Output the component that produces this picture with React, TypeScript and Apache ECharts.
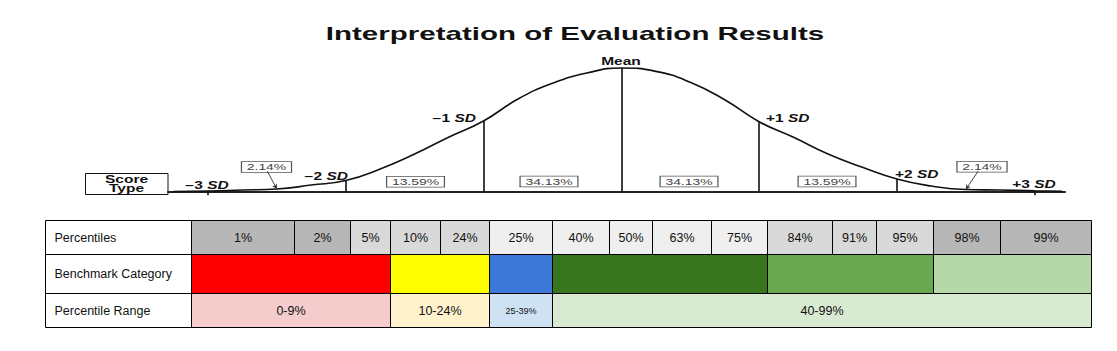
import React, { useEffect, useRef } from "react";
import * as echarts from "echarts";

// ---------- data: bell curve (relative height, peak = 100) ----------
const sdPositions = [-3.25, -3, -2.75, -2.5, -2.25, -2, -1.75, -1.5, -1.25, -1, -0.75, -0.5, -0.25, 0, 0.25, 0.5, 0.75, 1, 1.25, 1.5, 1.75, 2, 2.25, 2.5, 2.75, 3, 3.2];
const curveHeights = [0.4, 0.8, 1.6, 2.4, 5.6, 9.3, 18.5, 30.6, 44.4, 57.3, 75, 87.7, 96, 100, 97.3, 88.5, 74.4, 56.7, 44.1, 30.6, 19.9, 10.5, 4.8, 2.0, 1.6, 1.0, 0.6];
const sdDividers = [-2, -1, 0, 1, 2];
const sdEndTicks = [-3, 3];
const tailArrowTargets = [-2.5, 2.5];
const areaPercents = ["2.14%", "13.59%", "34.13%", "34.13%", "13.59%", "2.14%"];
const sdLabelNumbers = ["−3", "−2", "−1", "+1", "+2", "+3"];

// ---------- data: table ----------
const rowLabels = ["Percentiles", "Benchmark Category", "Percentile Range"];
const percentiles = ["1%", "2%", "5%", "10%", "24%", "25%", "40%", "50%", "63%", "75%", "84%", "91%", "95%", "98%", "99%"];
const benchmarkSpans = [[0, 3], [3, 5], [5, 6], [6, 10], [10, 13], [13, 15]];
const rangeLabels = ["0-9%", "10-24%", "25-39%", "40-99%"];
const rangeSpans = [[0, 3], [3, 5], [5, 6], [6, 15]];

// ---------- styles / layout ----------
const TITLE = "Interpretation of Evaluation Results";
const colWidths = [146, 103, 56, 40, 50, 49, 63, 57, 43, 59, 56, 65, 44, 57, 67, 91];
const rowHeights = [34, 39, 34];
const percentileShades = ["#b7b7b7", "#b7b7b7", "#d9d9d9", "#d9d9d9", "#d9d9d9", "#efefef", "#efefef", "#efefef", "#efefef", "#efefef", "#d9d9d9", "#d9d9d9", "#d9d9d9", "#b7b7b7", "#b7b7b7"];
const benchmarkColors = ["#ff0000", "#ffff00", "#3c78d8", "#38761d", "#6aa84f", "#b6d7a8"];
const rangeColors = ["#f4cccc", "#fff2cc", "#cfe2f3", "#d9ead3"];
const SANS = '"Liberation Sans", Arial, Helvetica, sans-serif';
const STRETCH = 1.55;

const colEdges = colWidths.reduce((acc, w) => { acc.push(acc[acc.length - 1] + w); return acc; }, [0] as number[]);
const rowEdges = rowHeights.reduce((acc, h) => { acc.push(acc[acc.length - 1] + h); return acc; }, [0] as number[]);

type Cell = { x0: number; x1: number; r: number; fill: string; text: string; align: string; fontSize: number };
const cells: Cell[] = [];
rowLabels.forEach((t, r) => cells.push({ x0: 0, x1: colEdges[1], r, fill: "#ffffff", text: t, align: "left", fontSize: 12.5 }));
percentiles.forEach((p, i) => cells.push({ x0: colEdges[i + 1], x1: colEdges[i + 2], r: 0, fill: percentileShades[i], text: p, align: "center", fontSize: 12.5 }));
benchmarkSpans.forEach(([a, b], i) => cells.push({ x0: colEdges[a + 1], x1: colEdges[b + 1], r: 1, fill: benchmarkColors[i], text: "", align: "center", fontSize: 12.5 }));
rangeSpans.forEach(([a, b], i) => cells.push({ x0: colEdges[a + 1], x1: colEdges[b + 1], r: 2, fill: rangeColors[i], text: rangeLabels[i], align: "center", fontSize: b - a === 1 ? 9 : 12.5 }));

const heightAt = (sd: number) => curveHeights[sdPositions.indexOf(sd)];

function diagramText(text: string, x: number, y: number, align: string, extra: any = {}, stretch = STRETCH) {
  return {
    type: "text",
    x,
    y,
    scaleX: stretch,
    silent: true,
    style: {
      text,
      font: `bold 10px ${SANS}`,
      fill: "#111",
      align,
      verticalAlign: "middle",
      textAlign: align,
      textVerticalAlign: "middle",
      ...extra,
    },
  };
}

function sdLabel(num: string, x: number, y: number, align: string) {
  return diagramText(`{n|${num} }{s|SD}`, x, y, align, {
    rich: {
      n: { font: `bold 10px ${SANS}`, fill: "#111" },
      s: { font: `italic bold 10px ${SANS}`, fill: "#111" },
    },
  });
}

function pctBox(text: string, x: number, y: number) {
  return diagramText(text, x, y, "center", {
    font: `9px ${SANS}`,
    fill: "#444",
    backgroundColor: "#fff",
    borderColor: "#555",
    borderWidth: 0.8,
    padding: [1, 3, 0, 3],
    lineHeight: 9,
  });
}

export default function App() {
  const ref = useRef<HTMLDivElement>(null);
  useEffect(() => {
    document.body.style.margin = "0";
    const chart = echarts.init(ref.current!, null, { renderer: "svg" });
    const curve = sdPositions.map((x, i) => [x, curveHeights[i]]);
    const dividerLines = sdDividers.map((sd) => [{ coord: [sd, 0] }, { coord: [sd, heightAt(sd)] }]);
    const tickLines = sdEndTicks.map((sd) => [{ coord: [sd, -2.6] }, { coord: [sd, heightAt(sd)] }]);
    const arrowLines = tailArrowTargets.map((sd) => [
      { coord: [sd + (sd < 0 ? -0.07 : 0.09), 16.9] },
      { coord: [sd, heightAt(sd)] },
    ]);

    chart.setOption({
      animation: false,
      grid: [
        { left: 168, right: 52, top: 63.04, height: 133.92 },
        { left: 45, top: 220, width: 1046, height: 107 },
      ],
      xAxis: [
        {
          type: "value", min: -3.29, max: 3.22, gridIndex: 0,
          axisLine: { show: true, onZero: true, lineStyle: { color: "#222", width: 2 } },
          axisTick: { show: false }, axisLabel: { show: false }, splitLine: { show: false },
        },
        { type: "value", min: 0, max: 1046, gridIndex: 1, show: false },
      ],
      yAxis: [
        { type: "value", min: -4, max: 104, gridIndex: 0, show: false, splitLine: { show: false } },
        { type: "value", min: 0, max: 107, inverse: true, gridIndex: 1, show: false },
      ],
      series: [
        {
          type: "line",
          xAxisIndex: 0,
          yAxisIndex: 0,
          data: curve,
          symbol: "none",
          smooth: 0.5,
          clip: false,
          lineStyle: { color: "#111", width: 1.6 },
          markLine: {
            silent: true,
            symbol: ["none", "none"],
            label: { show: false },
            lineStyle: { color: "#111", width: 1.6, type: "solid" },
            data: [...dividerLines, ...tickLines],
          },
        },
        {
          type: "line",
          xAxisIndex: 0,
          yAxisIndex: 0,
          data: [],
          markLine: {
            silent: true,
            symbol: ["none", "arrow"],
            symbolSize: [4, 5],
            label: { show: false },
            lineStyle: { color: "#333", width: 0.9, type: "solid" },
            data: arrowLines,
          },
        },
        {
          type: "custom",
          xAxisIndex: 1,
          yAxisIndex: 1,
          coordinateSystem: "cartesian2d",
          clip: false,
          encode: { x: [0, 1], y: 2 },
          data: cells.map((c, i) => [c.x0, c.x1, c.r, i]),
          renderItem: (params: any, api: any) => {
            const c = cells[api.value(3)];
            const p0 = api.coord([c.x0, rowEdges[c.r]]);
            const p1 = api.coord([c.x1, rowEdges[c.r + 1]]);
            const x = Math.round(Math.min(p0[0], p1[0])) + 0.5;
            const y = Math.round(Math.min(p0[1], p1[1])) + 0.5;
            const w = Math.round(Math.abs(p1[0] - p0[0]));
            const h = Math.round(Math.abs(p1[1] - p0[1]));
            const children: any[] = [
              { type: "rect", shape: { x, y, width: w, height: h }, style: { fill: c.fill, stroke: "#000", lineWidth: 1 } },
            ];
            if (c.text) {
              children.push({
                type: "text",
                x: c.align === "left" ? x + 9 : x + w / 2,
                y: y + h / 2,
                style: {
                  text: c.text,
                  font: `${c.fontSize}px ${SANS}`,
                  fill: "#111",
                  align: c.align,
                  verticalAlign: "middle",
                  textAlign: c.align,
                  textVerticalAlign: "middle",
                },
              });
            }
            return { type: "group", children };
          },
        },
      ],
      graphic: [
        diagramText(TITLE, 575, 34, "center", { font: `bold 18px ${SANS}`, fill: "#111" }, 1.64),
        diagramText("Mean", 621, 62, "center"),
        sdLabel(sdLabelNumbers[0], 207, 186, "center"),
        sdLabel(sdLabelNumbers[1], 348, 177, "right"),
        sdLabel(sdLabelNumbers[2], 476, 119, "right"),
        sdLabel(sdLabelNumbers[3], 766, 119, "left"),
        sdLabel(sdLabelNumbers[4], 895, 174.5, "left"),
        sdLabel(sdLabelNumbers[5], 1034, 185, "center"),
        pctBox(areaPercents[0], 266.5, 167),
        pctBox(areaPercents[1], 415.5, 181.7),
        pctBox(areaPercents[2], 549, 181.5),
        pctBox(areaPercents[3], 689, 181.5),
        pctBox(areaPercents[4], 827, 181.5),
        pctBox(areaPercents[5], 982, 166.7),
        {
          type: "rect",
          silent: true,
          shape: { x: 85.5, y: 173.5, width: 82.5, height: 21 },
          style: { fill: "#fff", stroke: "#111", lineWidth: 1 },
        },
        diagramText("Score", 126.5, 179.5, "center", { font: `bold 10px ${SANS}` }),
        diagramText("Type", 126.5, 188.5, "center", { font: `bold 10px ${SANS}` }),
        {
          type: "polygon",
          silent: true,
          shape: { points: [[700, 230.5], [708, 230.5], [704, 234.5]] },
          style: { fill: "#b0b0b0" },
        },
        {
          type: "rect",
          silent: true,
          shape: { x: 697, y: 241, width: 6, height: 6 },
          style: { fill: "#a4c2f4" },
        },
      ],
    });
    return () => chart.dispose();
  }, []);
  return <div ref={ref} style={{ width: 1117, height: 351 }} />;
}
